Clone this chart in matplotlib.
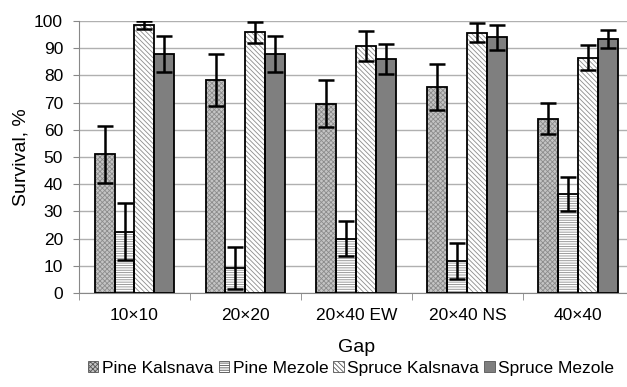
import matplotlib.pyplot as plt
import numpy as np
from matplotlib.patches import Patch

plt.rcParams["font.family"] = ["Liberation Sans", "DejaVu Sans"]
plt.rcParams["hatch.linewidth"] = 0.6

gaps = ["10×10", "20×20", "20×40 EW", "20×40 NS", "40×40"]
series = ["Pine Kalsnava", "Pine Mezole", "Spruce Kalsnava", "Spruce Mezole"]

pine_kalsnava = [51.0, 78.4, 69.6, 75.7, 64.0]
pine_mezole = [22.5, 9.3, 20.0, 11.8, 36.4]
spruce_kalsnava = [98.5, 95.8, 90.7, 95.7, 86.5]
spruce_mezole = [87.9, 87.9, 85.9, 93.9, 93.3]

pine_kalsnava_err = [10.4, 9.6, 8.5, 8.5, 5.7]
pine_mezole_err = [10.5, 7.7, 6.5, 6.5, 6.4]
spruce_kalsnava_err = [1.3, 3.9, 5.5, 3.5, 4.5]
spruce_mezole_err = [6.6, 6.6, 5.5, 4.5, 3.2]

values = [pine_kalsnava, pine_mezole, spruce_kalsnava, spruce_mezole]
errors = [pine_kalsnava_err, pine_mezole_err, spruce_kalsnava_err, spruce_mezole_err]

# (face, hatch, hatch colour)
styles = [
    ("#c4c4c4", "xxxxxxx", "#8c8c8c"),
    ("#ffffff", "-------", "#8c8c8c"),
    ("#ffffff", "\\\\\\\\\\\\\\", "#8c8c8c"),
    ("#7f7f7f", "", "#7f7f7f"),
]

fig = plt.figure(figsize=(6.27, 3.87), dpi=100)
ax = fig.add_axes([0.126, 0.243, 0.885, 0.703])

x = np.arange(len(gaps))
width = 0.18
offsets = (np.arange(4) - 1.5) * width

for vals, errs, off, (face, hatch, hcol) in zip(values, errors, offsets, styles):
    ax.bar(x + off, vals, width, color=face, hatch=hatch, edgecolor=hcol,
           linewidth=0, zorder=2)
    ax.bar(x + off, vals, width, fill=False, edgecolor="black",
           linewidth=1.3, zorder=3)
    ax.errorbar(x + off, vals, yerr=errs, fmt="none", ecolor="black",
                elinewidth=1.8, capsize=6, capthick=1.8, zorder=4)

ax.set_xlim(-0.5, len(gaps) - 0.5)
ax.set_ylim(0, 100)
ax.set_yticks(range(0, 101, 10))
ax.set_xticks(x)
ax.set_xticklabels(gaps)
ax.set_xticks(np.arange(len(gaps) + 1) - 0.5, minor=True)
ax.tick_params(axis="x", which="major", length=0, pad=11, labelsize=12.5)
ax.tick_params(axis="x", which="minor", length=5, color="#888888")
ax.tick_params(axis="y", length=4.5, color="#888888", labelsize=12.5, pad=7)

ax.grid(axis="y", color="#b0b0b0", linewidth=1.0, zorder=0)
ax.set_axisbelow(True)
for side in ("top", "right"):
    ax.spines[side].set_visible(False)
for side in ("left", "bottom"):
    ax.spines[side].set_color("#888888")

ax.set_ylabel("Survival, %", fontsize=14, labelpad=3)
ax.set_xlabel("Gap", fontsize=14, labelpad=11)

handles = [Patch(facecolor=f, hatch=h, edgecolor="#555555", linewidth=0.6)
           for f, h, _ in styles]
fig.legend(handles, series, loc="lower center", bbox_to_anchor=(0.56, -0.012),
           ncol=4, frameon=False, fontsize=12.5, handlelength=0.6,
           handleheight=0.6, handletextpad=0.2, columnspacing=0.3)

fig.savefig("out.png", dpi=100)
